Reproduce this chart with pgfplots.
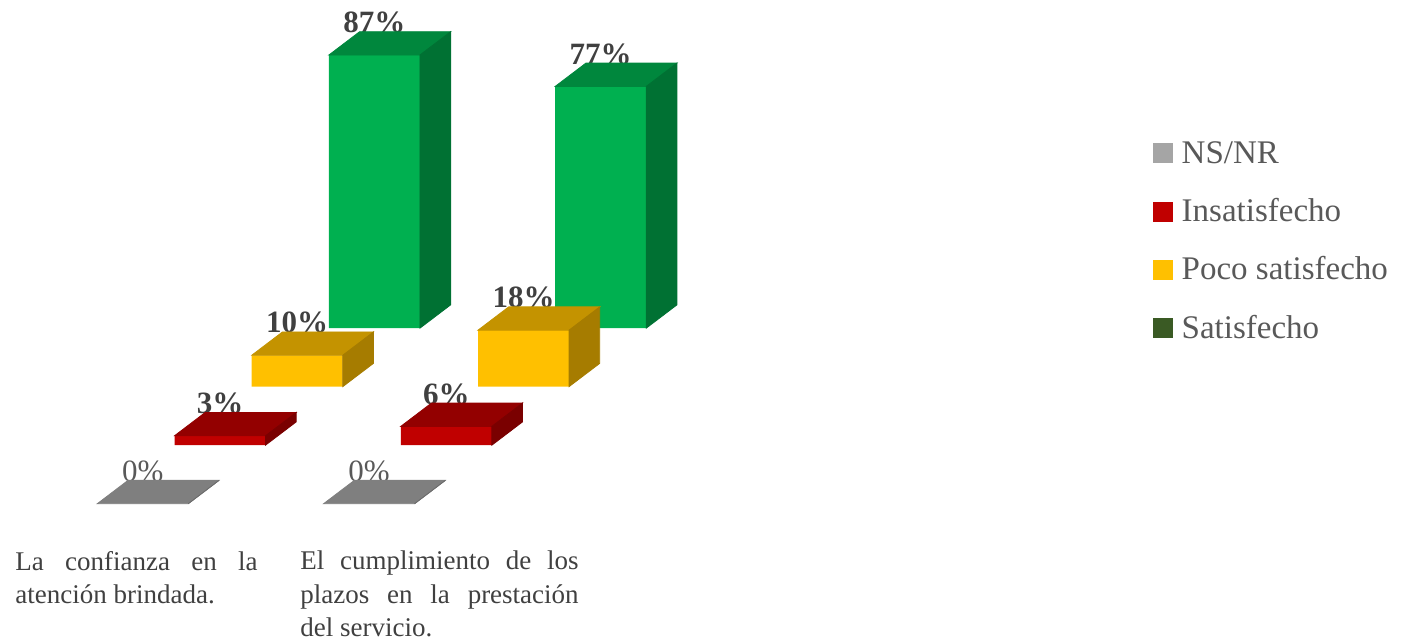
\documentclass[border=0pt]{standalone}
\usepackage{pgfplots}
\usepackage{pgfplotstable}
\pgfplotsset{compat=1.18}
\usepackage{fontspec}
\setmainfont{Liberation Serif}

% face colours: front, top (darker), side (darkest)
\definecolor{nsFront}{HTML}{A5A5A5}
\definecolor{nsTop}{HTML}{7F7F7F}
\definecolor{nsSide}{HTML}{6B6B6B}
\definecolor{inFront}{HTML}{C00000}
\definecolor{inTop}{HTML}{930000}
\definecolor{inSide}{HTML}{7A0000}
\definecolor{poFront}{HTML}{FFC000}
\definecolor{poTop}{HTML}{C49300}
\definecolor{poSide}{HTML}{A67C00}
\definecolor{saFront}{HTML}{00B050}
\definecolor{saTop}{HTML}{00873D}
\definecolor{saSide}{HTML}{007133}
\definecolor{saLegend}{HTML}{3A5A24}
\definecolor{labelText}{HTML}{404040}
\definecolor{legendText}{HTML}{595959}

% one table per answer, categories at 0 and 1
\pgfplotstableread{
cat val
0 0
1 0
}\nsnr
\pgfplotstableread{
cat val
0 3
1 6
}\insat
\pgfplotstableread{
cat val
0 10
1 18
}\poco
\pgfplotstableread{
cat val
0 87
1 77
}\satis

\pgfdeclareplotmark{cubeanchor}{}

\pgfplotsset{
  cubelayer/.style={
    hide axis, clip=false,
    x=113.15pt, y=1.57pt,
    xmin=0, xmax=1, ymin=0, ymax=100,
    anchor=south west,
  },
  % front face of each box
  frontbar/.style={
    ybar, bar width=45.5pt, draw=none, fill=#1, forget plot,
    point meta=y,
    nodes near coords={\pgfmathprintnumber[assume math mode=true]{\pgfplotspointmeta}\%},
    every node near coord/.append style={
      font=\fontsize{15.5}{18}\selectfont\bfseries,
      text=labelText, inner sep=0pt, yshift=10.75pt},
  },
  % top and right faces, drawn around each data point
  cubefaces/.style 2 args={
    scatter, only marks, mark=cubeanchor, forget plot, point meta=y,
    visualization depends on={rawy \as \cubeval},
    scatter/@pre marker code/.code={%
      \fill[#1] (-22.75pt,0pt) -- (22.75pt,0pt) -- (38.1pt,11.65pt)
                -- (-7.4pt,11.65pt) -- cycle;
      \fill[#2] (22.75pt,0pt) -- (38.1pt,11.65pt)
                -- (38.1pt,11.65pt-\cubeval*1.57pt)
                -- (22.75pt,-\cubeval*1.57pt) -- cycle;
    },
    scatter/@post marker code/.code={},
  },
}

\newcommand\catfont{\fontsize{13.5}{16}\selectfont}

\begin{document}
\begin{tikzpicture}
\path[use as bounding box] (0pt,0pt) rectangle (711pt,320.5pt);

% back row: Satisfecho
\begin{axis}[cubelayer, at={(187.2pt,156.4pt)}]
  \addplot[frontbar=saFront] table[x=cat,y=val] {\satis};
  \addplot[cubefaces={saTop}{saSide}] table[x=cat,y=val] {\satis};
\end{axis}

% Poco satisfecho
\begin{axis}[cubelayer, at={(148.6pt,127.15pt)}]
  \addplot[frontbar=poFront] table[x=cat,y=val] {\poco};
  \addplot[cubefaces={poTop}{poSide}] table[x=cat,y=val] {\poco};
\end{axis}

% Insatisfecho
\begin{axis}[cubelayer, at={(110.0pt,97.9pt)}]
  \addplot[frontbar=inFront] table[x=cat,y=val] {\insat};
  \addplot[cubefaces={inTop}{inSide}] table[x=cat,y=val] {\insat};
\end{axis}

% front row: NS/NR, plus the legend
\begin{axis}[cubelayer, at={(71.4pt,68.65pt)},
  legend image code/.code={\fill[#1, draw=none] (0pt,-4pt) rectangle (10pt,6pt);},
  legend cell align=left,
  legend style={
    at={(4.4626,1.16051)}, anchor=north west,
    draw=none, fill=none, inner sep=0pt, outer sep=0pt,
    row sep=13.15pt, column sep=4.5pt,
    font=\fontsize{16.5}{20}\selectfont,
    nodes={inner sep=0pt, text height=12pt, text depth=4pt, text=legendText},
  },
]
  \addplot[frontbar=nsFront,
    every node near coord/.append style={
      font=\fontsize{15.5}{18}\selectfont, text=legendText}]
    table[x=cat,y=val] {\nsnr};
  \addplot[cubefaces={nsTop}{nsSide}] table[x=cat,y=val] {\nsnr};

  \addlegendimage{fill=nsFront}
  \addlegendentry{NS/NR}
  \addlegendimage{fill=inFront}
  \addlegendentry{Insatisfecho}
  \addlegendimage{fill=poFront}
  \addlegendentry{Poco satisfecho}
  \addlegendimage{fill=saLegend}
  \addlegendentry{Satisfecho}
\end{axis}

% category names under the front row
\begin{scope}[every node/.style={anchor=base west, inner sep=0pt,
    font=\catfont, text=labelText}]
  \node at (7.5pt,35.15pt) {\makebox[121.15pt][s]{La confianza en la}};
  \node at (7.5pt,18.85pt) {atención brindada.};
  \node at (150pt,35.5pt) {\makebox[139.15pt][s]{El cumplimiento de los}};
  \node at (150pt,18.85pt) {\makebox[139.15pt][s]{plazos en la prestación}};
  \node at (150pt,2.15pt) {del servicio.};
\end{scope}
\end{tikzpicture}
\end{document}
